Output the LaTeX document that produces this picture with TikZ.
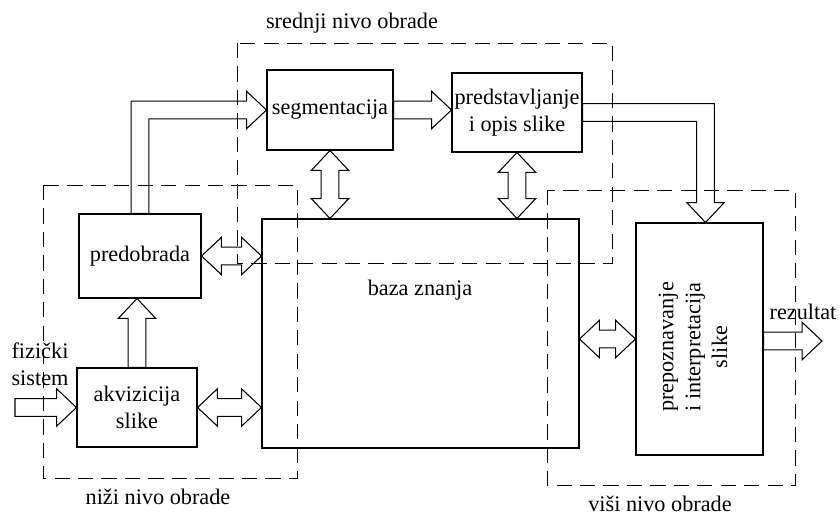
\documentclass[tikz,border=0pt]{standalone}
\usepackage{fontspec}
\setmainfont{Liberation Serif}
\usetikzlibrary{calc}

% hollow block arrows
\def\aw{7.5pt}
\def\aW{16pt}
\def\ah{17pt}
\newcommand{\arrowR}[2]{\draw[blk] let \p1=#1, \p2=#2 in (\x1,\y1+\aw) -- (\x2-\ah,\y1+\aw) -- (\x2-\ah,\y1+\aW) -- (\x2,\y1) -- (\x2-\ah,\y1-\aW) -- (\x2-\ah,\y1-\aw) -- (\x1,\y1-\aw) -- cycle;}
\newcommand{\arrowU}[2]{\draw[blk] let \p1=#1, \p2=#2 in (\x1-\aw,\y1) -- (\x1-\aw,\y2-\ah) -- (\x1-\aW,\y2-\ah) -- (\x1,\y2) -- (\x1+\aW,\y2-\ah) -- (\x1+\aw,\y2-\ah) -- (\x1+\aw,\y1) -- cycle;}
\newcommand{\arrowLR}[2]{\draw[blk] let \p1=#1, \p2=#2 in (\x1,\y1) -- (\x1+\ah,\y1+\aW) -- (\x1+\ah,\y1+\aw) -- (\x2-\ah,\y1+\aw) -- (\x2-\ah,\y1+\aW) -- (\x2,\y1) -- (\x2-\ah,\y1-\aW) -- (\x2-\ah,\y1-\aw) -- (\x1+\ah,\y1-\aw) -- (\x1+\ah,\y1-\aW) -- cycle;}
\newcommand{\arrowUD}[2]{\draw[blk] let \p1=#1, \p2=#2 in (\x1,\y1) -- (\x1+\aW,\y1-\ah) -- (\x1+\aw,\y1-\ah) -- (\x1+\aw,\y2+\ah) -- (\x1+\aW,\y2+\ah) -- (\x1,\y2) -- (\x1-\aW,\y2+\ah) -- (\x1-\aw,\y2+\ah) -- (\x1-\aw,\y1-\ah) -- (\x1-\aW,\y1-\ah) -- cycle;}
\newcommand{\arrowUR}[2]{\draw[blk] let \p1=#1, \p2=#2 in (\x1-\aw,\y1) -- (\x1-\aw,\y2+\aw) -- (\x2-\ah,\y2+\aw) -- (\x2-\ah,\y2+\aW) -- (\x2,\y2) -- (\x2-\ah,\y2-\aW) -- (\x2-\ah,\y2-\aw) -- (\x1+\aw,\y2-\aw) -- (\x1+\aw,\y1) -- cycle;}
\newcommand{\arrowRD}[2]{\draw[blk] let \p1=#1, \p2=#2 in (\x1,\y1+\aw) -- (\x2+\aw,\y1+\aw) -- (\x2+\aw,\y2+\ah) -- (\x2+\aW,\y2+\ah) -- (\x2,\y2) -- (\x2-\aW,\y2+\ah) -- (\x2-\aw,\y2+\ah) -- (\x2-\aw,\y1-\aw) -- (\x1,\y1-\aw) -- cycle;}

\begin{document}
\begin{tikzpicture}[x=0.03cm,y=-0.03cm,font=\fontsize{19}{23}\selectfont,
  box/.style={draw,line width=0.9pt,align=center},
  grp/.style={draw,line width=0.8pt,dash pattern=on 13pt off 7pt},
  blk/.style={line width=0.9pt,line join=miter}]
\useasboundingbox (0,0) rectangle (840,516);
% blocks
\node[box,minimum width=3.66cm,minimum height=2.52cm] (pre) at (140,256) {predobrada};
\node[box,minimum width=3.6cm,minimum height=2.37cm] (akv) at (137,407.5) {akvizicija\\slike};
\node[box,minimum width=9.51cm,minimum height=6.87cm] (baza) at (420.5,333.5) {};
\node (bazatxt) at (420,290) {baza znanja};
\node[box,minimum width=3.78cm,minimum height=2.4cm] (seg) at (330,110) {segmentacija};
\node[box,minimum width=3.9cm,minimum height=2.37cm,inner sep=0pt] (pred) at (517,112.5) {predstavljanje\\i opis slike};
\node[box,minimum width=3.81cm,minimum height=6.96cm] (prep) at (699.5,339) {};
\node[rotate=90,align=center] (preptxt) at (693,347) {prepoznavanje\\i interpretacija\\slike};
% levels
\draw[grp] (43,185) rectangle (297,478);
\draw[grp] (237,43) rectangle (612,263);
\draw[grp] (547,190) rectangle (795,485);
\node (nizi) at (158,497) {niži nivo obrade};
\node (srednji) at (352,23) {srednji nivo obrade};
\node (visi) at (660,504) {viši nivo obrade};
\node[align=center] (fiz) at (40,364) {fizički\\sistem};
\node (rez) at (803,312) {rezultat};
\coordinate (in) at (15,407.5);
\coordinate (out) at (822,341);
% arrows
\arrowR{(in)}{(akv.west)}
\arrowU{(akv.north)}{(pre.south)}
\arrowLR{(akv.east)}{(akv.east -| baza.west)}
\arrowLR{(pre.east)}{(pre.east -| baza.west)}
\arrowUR{(pre.north)}{(seg.west)}
\arrowR{(seg.east)}{(seg.east -| pred.west)}
\arrowUD{(seg.south)}{(seg.south |- baza.north)}
\arrowUD{(pred.south)}{(pred.south |- baza.north)}
\arrowRD{(pred.east)}{($(prep.north)+(6,0)$)}
\arrowLR{(baza.east |- prep.west)}{(prep.west)}
\arrowR{($(prep.east)+(0,2)$)}{(out)}
\end{tikzpicture}
\end{document}
